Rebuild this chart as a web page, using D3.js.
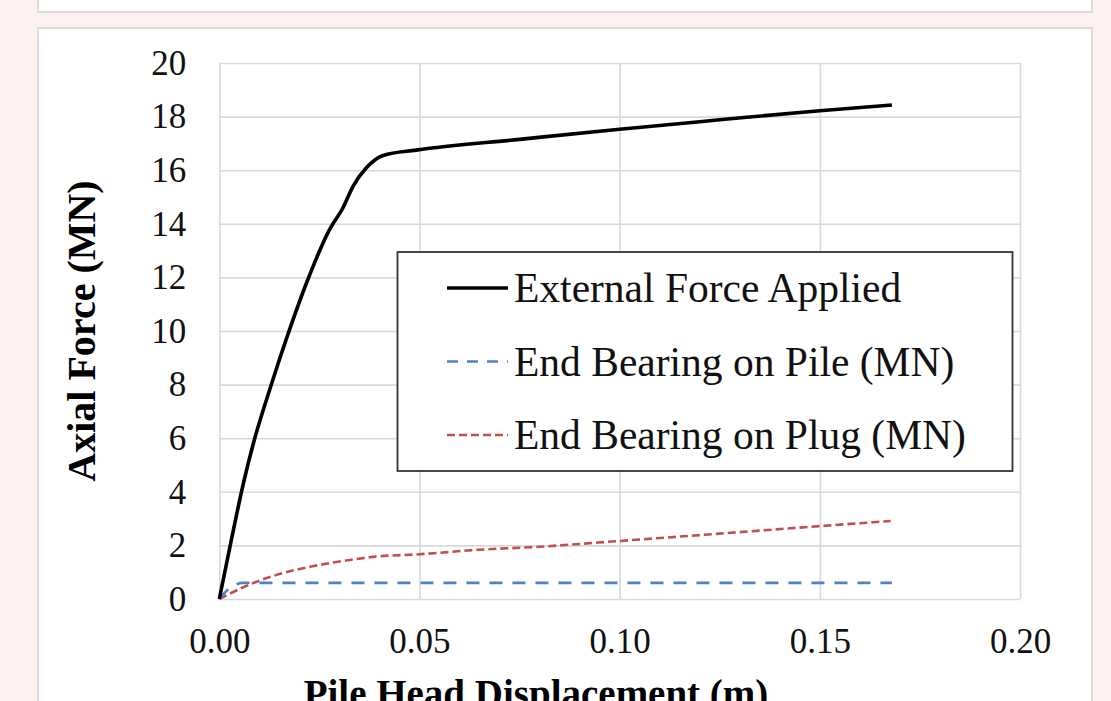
<!DOCTYPE html>
<html>
<head>
<meta charset="utf-8">
<script src="https://cdn.jsdelivr.net/npm/d3@7"></script>
<style>
  body { margin: 0; background: #fdf2ef; }
  svg { display: block; }
</style>
</head>
<body>
<div id="chart"></div>
<script>
// data
let extDisp = [0, 0.003, 0.006, 0.0085, 0.0131, 0.0172, 0.0218, 0.0276, 0.0309, 0.0334, 0.0368, 0.0409, 0.0492, 0.075, 0.10, 0.125, 0.15, 0.168];
let extForce = [0, 2.2, 4.3, 5.8, 8.05, 9.9, 11.8, 13.8, 14.6, 15.4, 16.1, 16.55, 16.75, 17.15, 17.53, 17.88, 18.22, 18.43];

let pileDisp = [0, 0.003, 0.006, 0.168];
let pileForce = [0, 0.45, 0.6, 0.6];

let plugDisp = [0, 0.006, 0.0143, 0.0226, 0.031, 0.039, 0.05, 0.064, 0.08, 0.0995, 0.125, 0.15, 0.1677];
let plugForce = [0, 0.44, 0.9, 1.2, 1.42, 1.58, 1.67, 1.83, 1.95, 2.16, 2.44, 2.72, 2.91];

let xTicks = [0, 0.05, 0.10, 0.15, 0.20];
let yTicks = [0, 2, 4, 6, 8, 10, 12, 14, 16, 18, 20];

let seriesNames = ["External Force Applied", "End Bearing on Pile (MN)", "End Bearing on Plug (MN)"];
let seriesColors = ["#000000", "#4f81c9", "#c0504d"];
let seriesDash = [null, "13,10", "8,4"];
let seriesWidth = [3.6, 2.6, 2.6];

let width = 1111;
let height = 701;

// plot area
let plotLeft = 219.3, plotRight = 1020, plotTop = 63, plotBottom = 599;

let svg = d3.select("#chart")
  .append("svg")
  .attr("width", width)
  .attr("height", height);

// the white panels
svg.append("rect")
  .attr("x", 38).attr("y", -10)
  .attr("width", 1054).attr("height", 22)
  .attr("fill", "#fff")
  .attr("stroke", "#dcdcdc")
  .attr("stroke-width", 2);

svg.append("rect")
  .attr("x", 38).attr("y", 28)
  .attr("width", 1054).attr("height", 700)
  .attr("fill", "#fff")
  .attr("stroke", "#dcdcdc")
  .attr("stroke-width", 2);

let x = d3.scaleLinear().domain([0, 0.2]).range([plotLeft, plotRight]);
let y = d3.scaleLinear().domain([0, 20]).range([plotBottom, plotTop]);

// gridlines + tick labels
let yAxis = svg.append("g")
  .attr("transform", "translate(" + plotLeft + ",0)")
  .call(d3.axisLeft(y)
    .tickValues(yTicks)
    .tickSize(-(plotRight - plotLeft))
    .tickPadding(33)
    .tickFormat(d3.format("d")));

let xAxis = svg.append("g")
  .attr("transform", "translate(0," + plotBottom + ")")
  .call(d3.axisBottom(x)
    .tickValues(xTicks)
    .tickSize(-(plotBottom - plotTop))
    .tickPadding(29)
    .tickFormat(d3.format(".2f")));

[xAxis, yAxis].forEach(function(a) {
  a.select(".domain").remove();
  a.selectAll("line")
    .attr("stroke", "#d9d9d9")
    .attr("stroke-width", 1.6);
  a.selectAll("text")
    .attr("fill", "#111")
    .style("font-family", "'Liberation Serif', 'Times New Roman', serif")
    .style("font-size", "35px");
});

// axis titles
svg.append("text")
  .attr("transform", "translate(95," + (plotTop + plotBottom) / 2 + ") rotate(-90)")
  .attr("text-anchor", "middle")
  .style("font-family", "'Liberation Serif', 'Times New Roman', serif")
  .style("font-weight", "bold")
  .style("font-size", "40px")
  .attr("fill", "#000")
  .text("Axial Force (MN)");

// the x title is cut by the bottom edge, as in the source
svg.append("text")
  .attr("x", 536)
  .attr("y", 707)
  .attr("text-anchor", "middle")
  .style("font-family", "'Liberation Serif', 'Times New Roman', serif")
  .style("font-weight", "bold")
  .style("font-size", "39px")
  .attr("fill", "#000")
  .text("Pile Head Displacement (m)");

// series lines
let line = d3.line()
  .x(function(d) { return x(d[0]); })
  .y(function(d) { return y(d[1]); })
  .curve(d3.curveMonotoneX);

let series = [
  d3.zip(extDisp, extForce),
  d3.zip(pileDisp, pileForce),
  d3.zip(plugDisp, plugForce)
];

// draw plug first, then pile, then the black curve on top
[2, 1, 0].forEach(function(i) {
  svg.append("path")
    .datum(series[i])
    .attr("d", line)
    .attr("fill", "none")
    .attr("stroke", seriesColors[i])
    .attr("stroke-width", seriesWidth[i])
    .attr("stroke-dasharray", seriesDash[i])
    .attr("stroke-linejoin", "round");
});

// legend
let legend = svg.append("g");

legend.append("rect")
  .attr("x", 397.5).attr("y", 252)
  .attr("width", 615).attr("height", 219)
  .attr("fill", "#fff")
  .attr("stroke", "#333")
  .attr("stroke-width", 1.8);

let legendRows = legend.selectAll(".row")
  .data(seriesNames)
  .enter()
  .append("g")
  .attr("class", "row")
  .attr("transform", function(d, i) { return "translate(0," + (288 + i * 73.5) + ")"; });

legendRows.append("line")
  .attr("x1", 447).attr("x2", 508)
  .attr("y1", 0).attr("y2", 0)
  .attr("stroke", function(d, i) { return seriesColors[i]; })
  .attr("stroke-width", function(d, i) { return seriesWidth[i]; })
  .attr("stroke-dasharray", function(d, i) { return i == 1 ? "11,9" : seriesDash[i]; });

legendRows.append("text")
  .attr("x", 514)
  .attr("y", 14)
  .style("font-family", "'Liberation Serif', 'Times New Roman', serif")
  .style("font-size", "41.5px")
  .attr("fill", "#111")
  .text(function(d) { return d; });
</script>
</body>
</html>
